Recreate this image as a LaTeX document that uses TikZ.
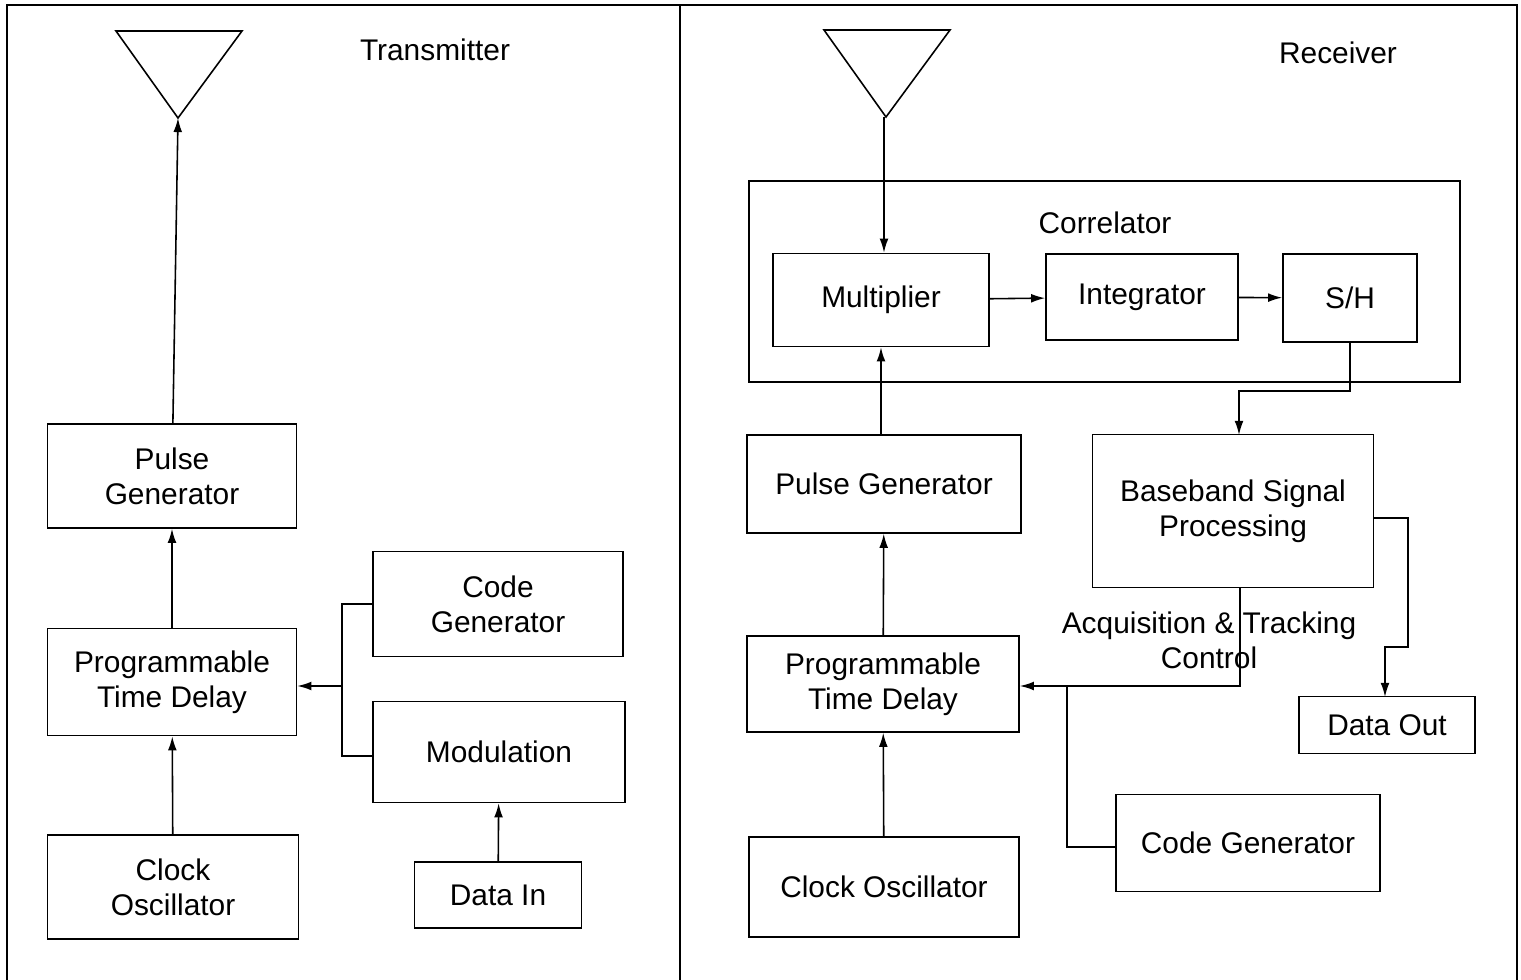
\documentclass[tikz,border=0pt]{standalone}
\usepackage{fontspec}
\setmainfont{Liberation Sans}
\usetikzlibrary{positioning,calc,arrows.meta}
\begin{document}
\begin{tikzpicture}[x=0.02cm, y=-0.02cm, line width=0.9pt,
    font=\fontsize{17}{20}\selectfont,
    block/.style={draw, rectangle, align=center, inner sep=0pt},
    >={Latex[length=8pt,width=5pt]}]
    \useasboundingbox (0,0) rectangle (1521,980);
    % Frame
    \draw (7,5) rectangle (1517,985);
    \draw (680,5) -- (680,985);
    % Transmitter nodes
    \node at (435,50) {Transmitter};
    \draw (116,31) -- (242,31) -- (178,118) -- cycle;
    \coordinate (tant) at (178,118);
    \node [block, minimum width=249*0.02cm, minimum height=104*0.02cm] (tpulse) at (172,476) {Pulse\\Generator};
    \node [block, minimum width=249*0.02cm, minimum height=107*0.02cm] (tdelay) at (172,682) {Programmable\\Time Delay};
    \node [block, minimum width=251*0.02cm, minimum height=104*0.02cm] (tclock) at (173,887) {Clock\\Oscillator};
    \node [block, minimum width=250*0.02cm, minimum height=105*0.02cm] (tcode) at (498,604) {Code\\Generator};
    \node [block, minimum width=252*0.02cm, minimum height=101*0.02cm] (tmod) at (499,752) {Modulation};
    \node [block, minimum width=167*0.02cm, minimum height=66*0.02cm] (tdata) at (498,895) {Data In};
    % Receiver nodes
    \node at (1338,53) {Receiver};
    \draw (824,30) -- (950,30) -- (886,117) -- cycle;
    \coordinate (rant) at (884,117);
    \node [block, minimum width=711*0.02cm, minimum height=201*0.02cm] (corr) at (1104.5,281.5) {};
    \node at (1105,223) {Correlator};
    \node [block, minimum width=216*0.02cm, minimum height=93*0.02cm] (mult) at (881,300) {Multiplier};
    \node [block, minimum width=192*0.02cm, minimum height=86*0.02cm] (integ) at (1142,297) {Integrator};
    \node [block, minimum width=134*0.02cm, minimum height=88*0.02cm] (sh) at (1350,298) {S/H};
    \node [block, minimum width=274*0.02cm, minimum height=98*0.02cm] (rpulse) at (884,484) {Pulse Generator};
    \node [block, minimum width=281*0.02cm, minimum height=153*0.02cm] (base) at (1233,511) {Baseband Signal\\Processing};
    \node [block, minimum width=272*0.02cm, minimum height=96*0.02cm] (rdelay) at (883,684) {Programmable\\Time Delay};
    \node [block, minimum width=270*0.02cm, minimum height=100*0.02cm] (rclock) at (884,887) {Clock Oscillator};
    \node [block, minimum width=176*0.02cm, minimum height=57*0.02cm] (dout) at (1387,725) {Data Out};
    \node [block, minimum width=264*0.02cm, minimum height=97*0.02cm] (rcode) at (1248,843) {Code Generator};
    \node [align=center] (acq) at (1209,640) {Acquisition \& Tracking\\Control};
    % Transmitter arrows
    \draw [->] (tpulse) -- (tant);
    \draw [->] (tdelay) -- (tpulse);
    \draw [->] (tclock) -- (tdelay);
    \draw [->] (tdata) -- (tmod);
    \draw (tcode.west) -| (342,756) -- (tmod.west |- 0,756);
    \draw [->] (342,686) -- (tdelay.east |- 0,686);
    % Receiver arrows
    \draw [->] (rant) -- (rant |- mult.north);
    \draw [->] (mult) -- (integ);
    \draw [->] (integ) -- (sh);
    \draw [->] (rpulse.north -| mult) -- (mult);
    \draw [->] (rdelay) -- (rpulse);
    \draw [->] (rclock) -- (rdelay);
    \draw [->] (sh.south) |- (1239,391) -- (1239,435);
    \draw [->] (1240,588) -- (1240,686) -- (rdelay.east |- 0,686);
    \draw (rcode.west |- 0,847) -| (1067,686);
    \draw [->] (base.east |- 0,518) -| (1408,647) -| (1385,697);
\end{tikzpicture}
\end{document}
